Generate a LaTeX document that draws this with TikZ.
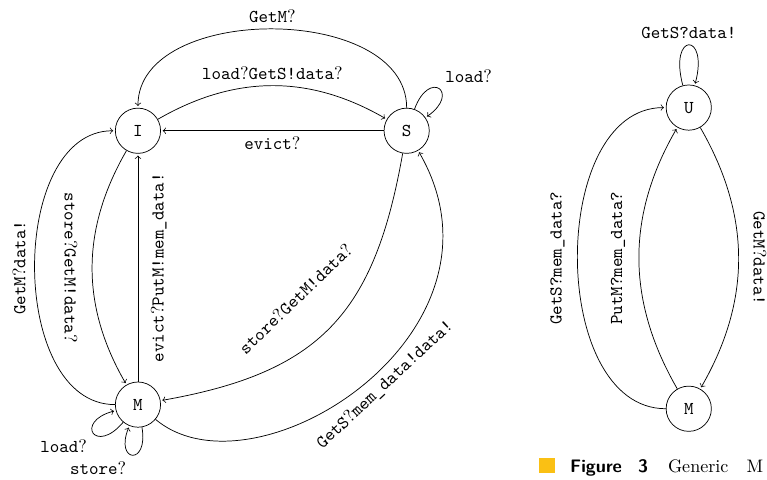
\documentclass[tikz,border=0pt]{standalone}
\usetikzlibrary{positioning,automata}
\definecolor{figyellow}{RGB}{250,192,20}
\newcommand{\qm}{\textrm{?}}

\begin{document}
\begin{tikzpicture}[shorten >=1pt,node distance=2cm,on grid,font=\ttfamily]
    \useasboundingbox (-2.68,-6.78) rectangle (12.22,2.54);
    % cache
    \node[state]           (I)                      {I};
    \node[state]           (S) [right=5.22cm of I]  {S};
    \node[state]           (M) [below=5.32cm of I]  {M};
    % memory
    \node[state]           (U) at (10.70,0.45)      {U};
    \node[state]           (M2) [below=5.85cm of U] {M};
    \path[->] (S) edge[out=90,in=90]         node [above] {GetM\qm} (I)
              (I) edge[bend left=30]         node [above] {load\qm GetS!data\qm} (S)
              (S) edge                       node [below] {evict\qm} (I)
              (S) edge[out=70,in=35,loop]    node [above right] {load\qm} ()
              (I) edge[out=-120,in=120]      node [rotate=-90,anchor=north,inner sep=8pt] {store\qm GetM!data\qm} (M)
              (M) edge[out=180,in=180]       node [rotate=90,anchor=south,inner sep=5pt] {GetM\qm data!} (I)
              (M) edge                       node [rotate=90,anchor=north,inner sep=7pt] {evict\qm PutM!mem\_data!} (I)
              (S) edge[out=-100,in=10,looseness=1.2] node [sloped,above,pos=0.52,inner sep=21pt] {store\qm GetM!data\qm} (M)
              (M) edge[out=-40,in=-60,out distance=2.52cm,in distance=4.08cm] node [sloped,below,pos=0.53] {GetS\qm mem\_data!data!} (S)
              (M) edge[out=230,in=195,loop]  node [below left] {load\qm} ()
              (M) edge[out=-80,in=-112,loop] node [below left] {store\qm} ();
    \path[->] (U) edge[out=105,in=75,looseness=12] node [above] {GetS?data!} (U)
              (M2) edge[out=180,in=180]      node [rotate=90,anchor=south,inner sep=7pt] {GetS?mem\_data?} (U)
              (M2) edge[out=120,in=-120]     node [rotate=90,anchor=south,inner sep=7.5pt] {PutM?mem\_data?} (U)
              (U) edge[out=-60,in=60]        node [rotate=-90,anchor=south,inner sep=8pt] {GetM\qm data!} (M2);
    % caption
    \fill[figyellow] (7.79,-6.35) rectangle (8.10,-6.64);
    \node[anchor=base west,inner sep=0,font=\sffamily\bfseries] (fig) at (8.39,-6.64) {Figure};
    \node[anchor=base west,inner sep=0,font=\sffamily\bfseries] (num) at (9.71,-6.64) {3};
    \node[anchor=base west,inner sep=0,font=\rmfamily] (cap) at (10.29,-6.64) {Generic\hspace{10pt}M};
\end{tikzpicture}
\end{document}
